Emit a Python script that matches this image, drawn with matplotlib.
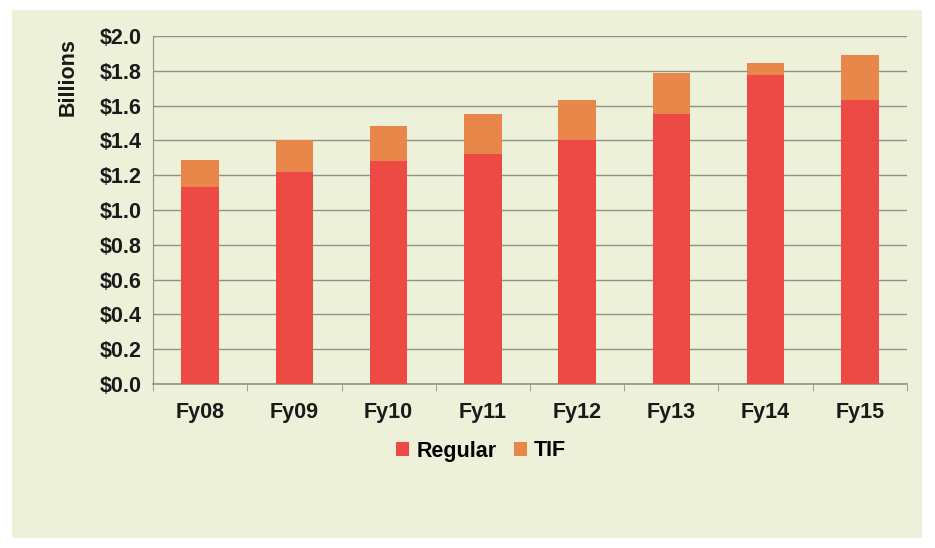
import matplotlib
matplotlib.use('Agg')
import matplotlib.pyplot as plt
from matplotlib.patches import Rectangle
import numpy as np

years = ['Fy08', 'Fy09', 'Fy10', 'Fy11', 'Fy12', 'Fy13', 'Fy14', 'Fy15']
regular = [1.13, 1.22, 1.28, 1.32, 1.40, 1.55, 1.775, 1.63]
tif = [0.155, 0.18, 0.205, 0.23, 0.23, 0.235, 0.07, 0.26]
y_ticks = [0.0, 0.2, 0.4, 0.6, 0.8, 1.0, 1.2, 1.4, 1.6, 1.8, 2.0]

bg = '#edf1da'
c_regular = '#ee4a45'
c_tif = '#e9874a'
grid_c = '#8f9383'

plt.rcParams['font.family'] = ['Liberation Sans', 'DejaVu Sans']
plt.rcParams['font.weight'] = 'bold'
fs = 15.5

fig = plt.figure(figsize=(9.35, 5.48), dpi=100)
fig.patch.set_facecolor('white')
# tinted panel behind the chart
panel = Rectangle((12 / 935, 1 - 538 / 548), 910 / 935, 528 / 548,
                  transform=fig.transFigure, facecolor=bg, edgecolor='none')
panel.set_zorder(-10)
fig.add_artist(panel)

ax = fig.add_axes([153 / 935, 1 - 384 / 548, 754 / 935, 348 / 548])
ax.set_zorder(1)
ax.set_facecolor(bg)

x = np.arange(len(years))
ax.bar(x, regular, width=0.4, color=c_regular, label='Regular', zorder=3)
ax.bar(x, tif, width=0.4, bottom=regular, color=c_tif, label='TIF', zorder=3)

ax.set_xlim(-0.5, len(years) - 0.5)
ax.set_ylim(0, 2.0)
ax.set_yticks(y_ticks)
ax.set_yticklabels([f'${v:.1f}' for v in y_ticks], fontsize=fs, fontweight='bold')
ax.yaxis.grid(True, color=grid_c, linewidth=1.0, zorder=0)
ax.tick_params(axis='y', length=0, pad=8, colors='#1a1a1a')

ax.set_xticks(x)
ax.set_xticklabels(years, fontsize=fs, fontweight='bold')
ax.tick_params(axis='x', length=0, pad=13, colors='#1a1a1a')
# small boundary ticks between categories
ax.set_xticks(np.arange(-0.5, len(years)), minor=True)
ax.tick_params(axis='x', which='minor', length=5, color=grid_c, direction='out')

for s in ['top', 'right']:
    ax.spines[s].set_visible(False)
ax.spines['left'].set_color(grid_c)
ax.spines['bottom'].set_color(grid_c)
ax.spines['bottom'].set_linewidth(1.2)

fig.text(68 / 935, 1 - 77 / 548, 'Billions', rotation=90, ha='center', va='center',
         fontsize=fs, fontweight='bold', color='#1a1a1a')

ax.legend(loc='center', bbox_to_anchor=(481 / 935, 1 - 451 / 548),
          bbox_transform=fig.transFigure, ncol=2,
          frameon=False, fontsize=fs, handlelength=0.6, handleheight=0.6,
          handletextpad=0.35, columnspacing=0.8)

fig.savefig('out.png', dpi=100, facecolor=fig.get_facecolor())
